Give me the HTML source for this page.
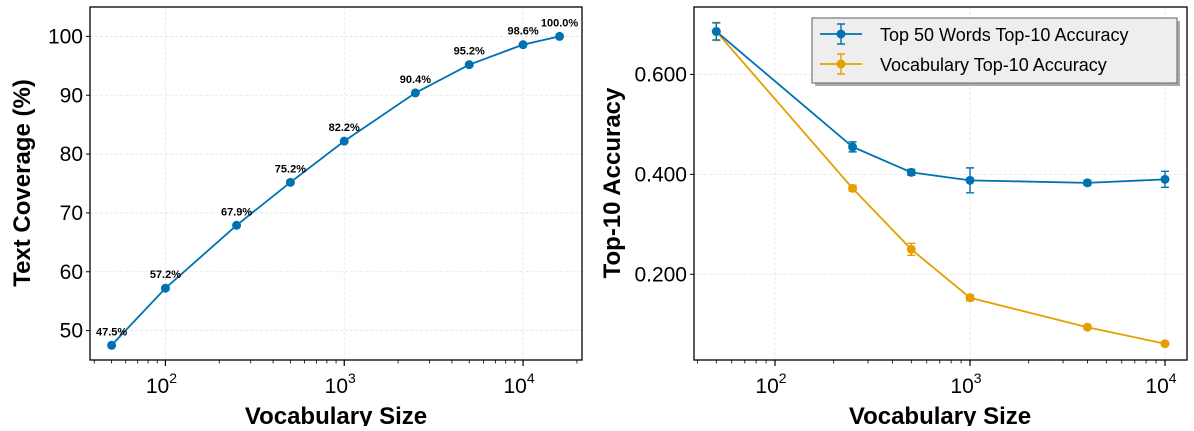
<!DOCTYPE html>
<html><head><meta charset="utf-8"><style>
body{margin:0;background:#fff;width:1194px;height:426px;overflow:hidden}
svg text{font-family:"Liberation Sans",Arial,sans-serif}
</style></head><body>
<svg id="c" width="1194" height="426" xmlns="http://www.w3.org/2000/svg"></svg>
<script>
const covX=[50,100,250,500,1000,2500,5000,10000,16000];
const covY=[47.5,57.2,67.9,75.2,82.2,90.4,95.2,98.6,100.0];
const covLabels=["47.5%","57.2%","67.9%","75.2%","82.2%","90.4%","95.2%","98.6%","100.0%"];
const leftYTicks=[50,60,70,80,90,100];
const accX=[50,250,500,1000,4000,10000];
const topY=[0.686,0.455,0.404,0.388,0.383,0.390];
const topErr=[0.017,0.010,0.006,0.025,0.005,0.016];
const vocY=[0.686,0.372,0.250,0.153,0.094,0.061];
const vocErr=[0.018,0.006,0.012,0.006,0.003,0.003];
const rightYTicks=[0.2,0.4,0.6];
const xDecades=[2,3,4];
const BLUE="#0072B2",ORANGE="#E69F00";
const svg=document.getElementById('c');
const NS="http://www.w3.org/2000/svg";
function mk(t,a,p){const e=document.createElementNS(NS,t);for(const k in a)e.setAttribute(k,a[k]);(p||svg).appendChild(e);return e;}
function mkAxes(L,R,T,B,xmin,xmax,ymin,ymax){
  const lx=Math.log10(xmin),hx=Math.log10(xmax);
  return {L,R,T,B,x:v=>L+(Math.log10(v)-lx)/(hx-lx)*(R-L),y:v=>B-(v-ymin)/(ymax-ymin)*(B-T)};
}
function frame(a,g,yTicks,fmt){
  for(const d of xDecades){const x=a.x(Math.pow(10,d));
    const gl=mk('line',{x1:x,x2:x,y1:a.T,y2:a.B,stroke:'#e4e4e4','stroke-dasharray':'3,2','stroke-width':0.8},g);
    }
  for(const t of yTicks){const y=a.y(t);
    const gl=mk('line',{x1:a.L,x2:a.R,y1:y,y2:y,stroke:'#e4e4e4','stroke-dasharray':'3,2','stroke-width':0.8},g);
    
    const tk=mk('line',{x1:a.L-4,x2:a.L,y1:y,y2:y,stroke:'#000'},g);
    
    const tx=mk('text',{x:a.L-7,y:y+7,'font-size':21,'text-anchor':'end'},g);tx.textContent=fmt(t);
    }
  for(let d=1;d<=4;d++)for(let m=1;m<10;m++){const v=m*Math.pow(10,d);const x=a.x(v);
    if(x<a.L-0.5||x>a.R+0.5)continue;
    const tk=mk('line',{x1:x,x2:x,y1:a.B,y2:a.B+(m==1?6:3.5),stroke:'#000','stroke-width':m==1?1.2:0.8},g);
    }
  for(const d of xDecades){const x=a.x(Math.pow(10,d));
    const tx=mk('text',{x:x-4,y:a.B+33,'font-size':21,'text-anchor':'middle'},g);
    
    tx.textContent='10';const s=mk('tspan',{dy:-10,'font-size':14},tx);s.textContent=d;}
  const r=mk('rect',{x:a.L,y:a.T,width:a.R-a.L,height:a.B-a.T,fill:'none',stroke:'#000','stroke-width':1.3},g);
  
}
function series(a,g,xs,ys,col,name,errs){
  const line=mk('polyline',{points:xs.map((v,i)=>a.x(v)+','+a.y(ys[i])).join(' '),fill:'none',stroke:col,'stroke-width':1.8},g);
  
  xs.forEach((v,i)=>{const x=a.x(v),y=a.y(ys[i]);
    if(errs){const y1=a.y(ys[i]+errs[i]),y2=a.y(ys[i]-errs[i]);
      const e=mk('path',{d:`M${x},${y1}V${y2}M${x-4},${y1}H${x+4}M${x-4},${y2}H${x+4}`,stroke:col,'stroke-width':1.4,fill:'none'},g);
      }
    const c=mk('circle',{cx:x,cy:y,r:4.5,fill:col},g);
    });
}
// left chart
const gl=mk('g',{});
const A=mkAxes(90,582,7,360,10**(2-(165.5-90)/179),10**(4+(582-523)/179),45,105);
frame(A,gl,leftYTicks,t=>String(t));
series(A,gl,covX,covY,BLUE,'coverage');
covX.forEach((v,i)=>{const t=mk('text',{x:A.x(v),y:A.y(covY[i])-10,'font-size':11,'font-weight':'bold','text-anchor':'middle'},gl);
  t.textContent=covLabels[i];});
let t=mk('text',{x:336,y:424,'font-size':24,'font-weight':'bold','text-anchor':'middle'},gl);t.textContent='Vocabulary Size';

t=mk('text',{transform:'translate(30,183) rotate(-90)','font-size':24,'font-weight':'bold','text-anchor':'middle'},gl);t.textContent='Text Coverage (%)';

// right chart
const gr=mk('g',{});
const B=mkAxes(694,1187,7,360,10**(2-(775-694)/195),10**(4+(1187-1165)/195),0.0284,0.735);
frame(B,gr,rightYTicks,t=>t.toFixed(3));
series(B,gr,accX,vocY,ORANGE,'vocabulary-accuracy',vocErr);
series(B,gr,accX,topY,BLUE,'top50-accuracy',topErr);
t=mk('text',{x:940,y:424,'font-size':24,'font-weight':'bold','text-anchor':'middle'},gr);t.textContent='Vocabulary Size';

t=mk('text',{transform:'translate(620,183) rotate(-90)','font-size':24,'font-weight':'bold','text-anchor':'middle'},gr);t.textContent='Top-10 Accuracy';

// legend
const lg=mk('g',{},gr);
mk('rect',{x:815,y:21,width:365,height:65,fill:'#aaa'},lg);
const lb=mk('rect',{x:812,y:18,width:365,height:65,fill:'#eeeeee',stroke:'#777','stroke-width':1.2},lg);

[[BLUE,'Top 50 Words Top-10 Accuracy',34,'legend-entry-top50'],[ORANGE,'Vocabulary Top-10 Accuracy',64,'legend-entry-vocabulary']].forEach(([c,lab,y,n])=>{
  const e=mk('g',{},lg);
  mk('line',{x1:820,x2:862,y1:y,y2:y,stroke:c,'stroke-width':1.8},e);
  mk('path',{d:`M841,${y-10}V${y+10}M837,${y-10}H845M837,${y+10}H845`,stroke:c,'stroke-width':1.4,fill:'none'},e);
  mk('circle',{cx:841,cy:y,r:4.5,fill:c},e);
  const tt=mk('text',{x:880,y:y+7,'font-size':18},e);tt.textContent=lab;});
</script>
</body></html>
